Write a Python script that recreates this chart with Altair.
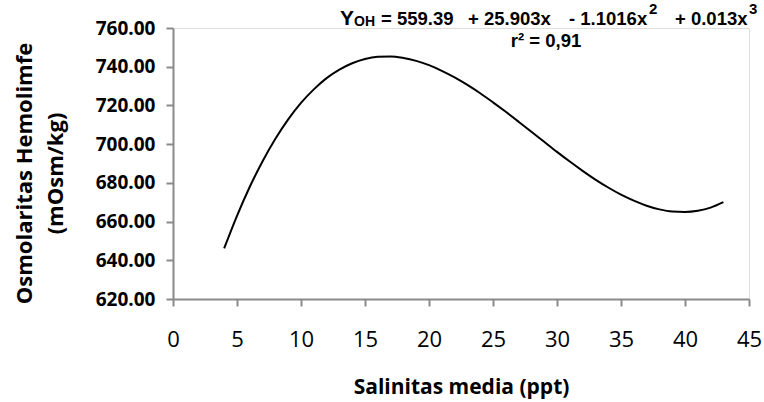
import altair as alt
import pandas as pd

# Fitted hemolymph osmolality curve against mean salinity
salinity = list(range(4, 44))
osmolality = [646.2, 663.0, 678.0, 691.2, 702.8, 712.8, 721.3, 728.3, 734.1, 738.5,
              741.8, 744.0, 745.1, 745.3, 744.5, 743.0, 740.8, 737.9, 734.5, 730.6,
              726.3, 721.6, 716.7, 711.6, 706.4, 701.2, 696.0, 691.0, 686.2, 681.7,
              677.6, 673.9, 670.8, 668.2, 666.3, 665.2, 665.0, 665.6, 667.2, 670.0]

x_ticks = [0, 5, 10, 15, 20, 25, 30, 35, 40, 45]
y_ticks = [620, 640, 660, 680, 700, 720, 740, 760]

df = pd.DataFrame({"salinitas": salinity, "osmolaritas": osmolality})

AXIS_GRAY = "#8a8a8a"

curve = alt.Chart(df).mark_line(color="black", strokeWidth=2, interpolate="monotone").encode(
    x=alt.X(
        "salinitas:Q",
        scale=alt.Scale(domain=[0, 45], nice=False, zero=False),
        axis=alt.Axis(
            values=x_ticks,
            title="Salinitas media (ppt)",
            titleFont="Open Sans",
            titleFontWeight="bold",
            titleFontSize=21,
            titleColor="black",
            titleBaseline="alphabetic",
            titleY=94,
            labelFont="Open Sans",
            labelFontSize=22,
            labelFontWeight="normal",
            labelColor="black",
            labelPadding=23,
            tickSize=7,
            tickWidth=2,
            tickColor=AXIS_GRAY,
            domainColor=AXIS_GRAY,
            domainWidth=2,
            grid=False,
            labelFlush=False,
        ),
    ),
    y=alt.Y(
        "osmolaritas:Q",
        scale=alt.Scale(domain=[620, 760], nice=False, zero=False),
        axis=alt.Axis(
            values=y_ticks,
            format=".2f",
            title=["Osmolaritas Hemolimfe", "(mOsm/kg)"],
            titleFont="Open Sans",
            titleFontWeight="bold",
            titleFontSize=22,
            titleLineHeight=31,
            titleColor="black",
            titleAngle=270,
            titleAlign="center",
            titleBaseline="alphabetic",
            titleX=-142,
            titleY=145,
            labelFont="Open Sans",
            labelFontSize=19,
            labelFontWeight="bold",
            labelColor="black",
            labelPadding=11,
            tickSize=7,
            tickWidth=2,
            tickColor=AXIS_GRAY,
            domainColor=AXIS_GRAY,
            domainWidth=2,
            grid=False,
            labelFlush=False,
        ),
    ),
)

EQ_FONT = "Liberation Sans, Arial, sans-serif"

# Regression equation, written piece by piece: (text, left x, baseline y, size, align)
eq_pieces = [
    ("Y", 167, -3, 21, "left"),
    ("OH", 181, -2, 14, "left"),
    ("= 559.39", 208, -3, 18.5, "left"),
    ("+ 25.903x", 295, -3, 18.5, "left"),
    ("- 1.1016x", 396, -3, 18.5, "left"),
    ("2", 476, -14, 15, "left"),
    ("+ 0.013x", 502, -3, 18.5, "left"),
    ("3", 576, -14, 15, "left"),
    ("r\u00b2 = 0,91", 373, 18.5, 18.5, "center"),
]


def note(text, x, y, size, align):
    return alt.Chart(pd.DataFrame({"t": [text]})).mark_text(
        font=EQ_FONT, fontWeight="bold", fontSize=size, color="black",
        align=align, baseline="alphabetic",
    ).encode(text="t:N", x=alt.value(x), y=alt.value(y))


chart = alt.layer(
    curve,
    *[note(*p) for p in eq_pieces],
).properties(
    width=576,
    height=271,
    autosize=alt.AutoSizeParams(type="none"),
    padding={"left": 173, "top": 28, "right": 15, "bottom": 103},
).configure_view(stroke=None).configure(background="white")

chart.save("out.html", embed_options={"renderer": "svg", "actions": False})
